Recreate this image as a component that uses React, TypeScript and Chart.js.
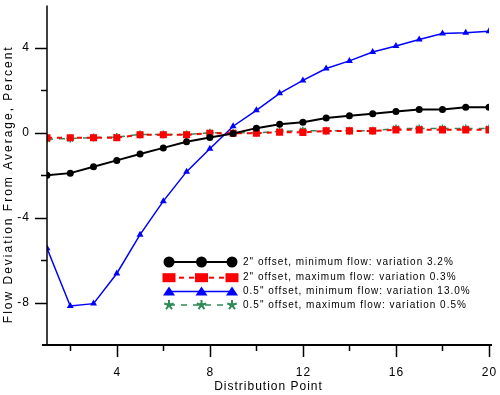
import React, { useEffect, useRef } from "react";
import { Chart, registerables } from "chart.js";

Chart.register(...registerables);

const distributionPoints = [1, 2, 3, 4, 5, 6, 7, 8, 9, 10, 11, 12, 13, 14, 15, 16, 17, 18, 19, 20];
const offset2MinFlow = [-2.0, -1.9, -1.6, -1.3, -1.0, -0.71, -0.42, -0.22, -0.03, 0.22, 0.4, 0.5, 0.7, 0.8, 0.9, 1.0, 1.1, 1.1, 1.2, 1.2];
const offset2MaxFlow = [-0.23, -0.23, -0.23, -0.23, -0.09, -0.09, -0.09, -0.02, -0.02, -0.02, 0.03, 0.02, 0.09, 0.09, 0.09, 0.14, 0.14, 0.14, 0.14, 0.14];
const offset05MinFlow = [-5.44, -8.16, -8.05, -6.63, -4.8, -3.22, -1.83, -0.75, 0.31, 1.06, 1.86, 2.47, 3.03, 3.39, 3.81, 4.09, 4.4, 4.68, 4.71, 4.79];
const offset05MaxFlow = [-0.3, -0.27, -0.22, -0.2, -0.08, -0.08, -0.08, 0.0, 0.0, 0.0, 0.07, 0.1, 0.1, 0.1, 0.1, 0.2, 0.2, 0.2, 0.2, 0.2];

const seriesLabels = [
  '2" offset, minimum flow: variation 3.2%',
  '2" offset, maximum flow: variation 0.3%',
  '0.5" offset, minimum flow: variation 13.0%',
  '0.5" offset, maximum flow: variation 0.5%',
];

const xMajorTicks = [4, 8, 12, 16, 20];
const xMinorTicks = [2, 6, 10, 14, 18];
const yMajorTicks = [-8, -4, 0, 4];
const yMinorTicks = [-6, -2, 2];

const FONT = "Arial, 'Liberation Sans', Helvetica, sans-serif";
const GREEN = "#2E8B57";

const toXY = (ys: number[]) => distributionPoints.map((x, i) => ({ x, y: ys[i] }));

const zeroPad = (s: any) => {
  s.paddingTop = 0;
  s.paddingBottom = 0;
  s.paddingLeft = 0;
  s.paddingRight = 0;
};

// wrap a scale's text-drawing method so its text gets letter spacing (and an optional shift)
const patchText = (s: any, method: string, spacing: string, dx = 0, dy = 0) => {
  const key = "_patched_" + method;
  if (s[key]) return;
  const orig = s[method];
  s[method] = function (...args: any[]) {
    const ctx = this.ctx;
    ctx.save();
    ctx.letterSpacing = spacing;
    ctx.translate(dx, dy);
    orig.apply(this, args);
    ctx.restore();
  };
  s[key] = true;
};

const axesPlugin = {
  id: "customAxes",
  afterDraw(chart: any) {
    const ctx = chart.ctx;
    const xs = chart.scales.x;
    const ys = chart.scales.y;
    const area = chart.chartArea;
    ctx.save();
    ctx.strokeStyle = "#000";
    ctx.lineWidth = 2;
    ctx.beginPath();
    ctx.moveTo(area.left - 5, area.bottom);
    ctx.lineTo(area.right + 3, area.bottom);
    ctx.stroke();
    ctx.lineWidth = 1.5;
    ctx.beginPath();
    ctx.moveTo(area.left, area.top);
    ctx.lineTo(area.left, area.bottom);
    ctx.stroke();
    ctx.lineWidth = 1.5;
    const xt = (v: number, len: number) => {
      const px = Math.round(xs.getPixelForValue(v)) + 0.5;
      ctx.beginPath();
      ctx.moveTo(px, area.bottom);
      ctx.lineTo(px, area.bottom + len);
      ctx.stroke();
    };
    xMajorTicks.forEach((v) => xt(v, 12));
    xMinorTicks.forEach((v) => xt(v, 6));
    const yt = (v: number, len: number) => {
      const py = Math.round(ys.getPixelForValue(v)) + 0.5;
      ctx.beginPath();
      ctx.moveTo(area.left, py);
      ctx.lineTo(area.left - len, py);
      ctx.stroke();
    };
    yMajorTicks.forEach((v) => yt(v, 12));
    yMinorTicks.forEach((v) => yt(v, 6));
    ctx.restore();
  },
};

const legendPlugin = {
  id: "customLegend",
  afterDraw(chart: any, _args: any, opts: any) {
    const ctx = chart.ctx;
    const { markerXs, rowYs, textX } = opts;
    ctx.save();
    chart.data.datasets.forEach((ds: any, i: number) => {
      const y = rowYs[i];
      ctx.strokeStyle = ds.borderColor;
      ctx.fillStyle = ds.backgroundColor;
      ctx.lineWidth = ds.borderWidth;
      ctx.setLineDash(ds.borderDash || []);
      ctx.beginPath();
      ctx.moveTo(markerXs[0], y);
      ctx.lineTo(markerXs[markerXs.length - 1], y);
      ctx.stroke();
      ctx.setLineDash([]);
      markerXs.forEach((mx: number) => {
        ctx.beginPath();
        if (ds.pointStyle === "circle") {
          ctx.arc(mx, y, 5.5, 0, Math.PI * 2);
          ctx.fill();
        } else if (ds.pointStyle === "rect") {
          ctx.fillRect(mx - 6.5, y - 4.5, 13, 9);
        } else if (ds.pointStyle === "triangle") {
          ctx.moveTo(mx, y - 5);
          ctx.lineTo(mx + 6, y + 4);
          ctx.lineTo(mx - 6, y + 4);
          ctx.closePath();
          ctx.fill();
        } else if (ds.pointStyle === "star") {
          ctx.lineWidth = 2;
          const r = 5;
          for (let k = 0; k < 5; k++) {
            const a = (k * 2 * Math.PI) / 5 - Math.PI / 2;
            ctx.moveTo(mx, y);
            ctx.lineTo(mx + r * Math.cos(a), y + r * Math.sin(a));
          }
          ctx.stroke();
          ctx.beginPath();
          ctx.fillStyle = ds.borderColor;
          ctx.arc(mx, y, 2.2, 0, Math.PI * 2);
          ctx.fill();
        }
      });
      ctx.fillStyle = "#000";
      ctx.font = `10px ${FONT}`;
      (ctx as any).letterSpacing = "1px";
      ctx.textAlign = "left";
      ctx.textBaseline = "middle";
      ctx.fillText(ds.label, textX, y);
      (ctx as any).letterSpacing = "0px";
    });
    ctx.restore();
  },
};

export default function App() {
  const ref = useRef<HTMLCanvasElement>(null);
  useEffect(() => {
    if (!ref.current) return;
    const chart = new Chart(ref.current, {
      type: "line",
      data: {
        datasets: [
          {
            label: seriesLabels[0],
            data: toXY(offset2MinFlow),
            borderColor: "#000000",
            backgroundColor: "#000000",
            borderWidth: 2,
            pointStyle: "circle",
            pointRadius: 3.5,
            pointBorderWidth: 0,
          },
          {
            label: seriesLabels[1],
            data: toXY(offset2MaxFlow),
            borderColor: "#FF0000",
            backgroundColor: "#FF0000",
            borderWidth: 2,
            borderDash: [5, 5],
            pointStyle: "rect",
            pointRadius: 5,
            pointBorderWidth: 0,
          },
          {
            label: seriesLabels[2],
            data: toXY(offset05MinFlow),
            borderColor: "#0000FF",
            backgroundColor: "#0000FF",
            borderWidth: 1.5,
            pointStyle: "triangle",
            pointRadius: 4,
            pointBorderWidth: 0,
          },
          {
            label: seriesLabels[3],
            data: toXY(offset05MaxFlow),
            borderColor: GREEN,
            backgroundColor: GREEN,
            borderWidth: 1.5,
            borderDash: [6, 6],
            pointStyle: "star",
            pointRadius: 4,
            pointBorderWidth: 1.5,
          },
        ] as any,
      },
      options: {
        responsive: false,
        animation: false,
        layout: { padding: { top: 2, right: 11, left: 0, bottom: 0 } },
        plugins: {
          legend: { display: false },
          tooltip: { enabled: false },
          customLegend: { markerXs: [169, 201.5, 232], rowYs: [262, 277.7, 291.5, 305], textX: 243 },
        } as any,
        scales: {
          x: {
            type: "linear",
            min: 1,
            max: 20,
            afterBuildTicks: (s: any) => {
              s.ticks = xMajorTicks.map((v) => ({ value: v }));
            },
            afterFit: (s: any) => {
              s.height = 50;
              zeroPad(s);
              patchText(s, "drawLabels", "1px", 0.5, 0);
              patchText(s, "drawTitle", "1px", 0.5, 0);
            },
            grid: { display: false },
            border: { display: false },
            ticks: {
              color: "#000",
              font: { family: FONT, size: 12 },
              padding: 12,
              maxRotation: 0,
              autoSkip: false,
            },
            title: {
              display: true,
              text: "Distribution Point",
              color: "#000",
              font: { family: FONT, size: 12 },
              padding: { top: 0, bottom: 1 },
            },
          },
          y: {
            type: "linear",
            min: -10,
            max: 6,
            afterBuildTicks: (s: any) => {
              s.ticks = yMajorTicks.map((v) => ({ value: v }));
            },
            afterFit: (s: any) => {
              s.width = 47;
              zeroPad(s);
              patchText(s, "drawLabels", "1px", 1, 0);
              patchText(s, "drawTitle", "2px", 0, 9);
            },
            grid: { display: false },
            border: { display: false },
            ticks: {
              color: "#000",
              font: { family: FONT, size: 12 },
              padding: 10,
              autoSkip: false,
              callback: (v: any) => String(v),
            },
            title: {
              display: true,
              text: "Flow Deviation From Average, Percent",
              color: "#000",
              font: { family: FONT, size: 12 },
              padding: { top: 1, bottom: 0 },
            },
          },
        },
      },
      plugins: [axesPlugin, legendPlugin],
    });
    return () => chart.destroy();
  }, []);
  return (
    <div style={{ position: "absolute", left: 0, top: 0, width: 500, height: 395, background: "#fff" }}>
      <canvas ref={ref} width={500} height={395} />
    </div>
  );
}
